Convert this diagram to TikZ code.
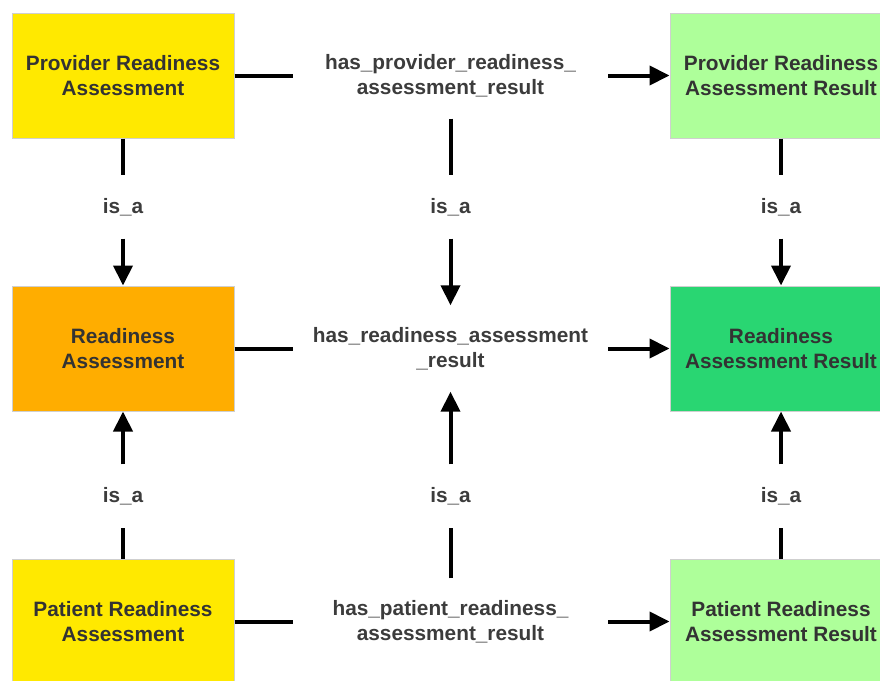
\documentclass[tikz,border=0pt]{standalone}
\usepackage{fontspec}
\setmainfont{Liberation Sans}
\usetikzlibrary{arrows.meta}

\definecolor{subYellow}{HTML}{FFE900}
\definecolor{baseOrange}{HTML}{FFAD00}
\definecolor{subGreen}{HTML}{AEFF9A}
\definecolor{baseGreen}{HTML}{29D672}
\definecolor{boxEdge}{HTML}{CFCFCF}
\definecolor{ink}{HTML}{333333}
\definecolor{labelInk}{HTML}{3C3C3C}

\newcommand{\diagfont}{\fontsize{20.8}{24.5}\selectfont\bfseries}

\begin{document}
\begin{tikzpicture}[x=1pt,y=-1pt,
  concept/.style={draw=boxEdge, line width=1pt, minimum width=222pt,
    minimum height=125pt, inner sep=0pt, align=center, font=\diagfont, text=ink},
  rel/.style={minimum width=315pt, minimum height=86pt, inner sep=0pt,
    align=center, font=\diagfont, text=labelInk},
  isa/.style={minimum width=60pt, minimum height=63pt, inner sep=0pt,
    font=\diagfont, text=labelInk},
  link/.style={line width=4pt, draw=black},
  tip/.style={link, -{Triangle[length=20pt,width=19pt]}}]

\useasboundingbox (0,0) rectangle (880,680);
\clip (0,0) rectangle (880,680);
\fill[white] (0,0) rectangle (880,680);

% classes
\node[concept, fill=subYellow]  (pra) at (123,75.5)  {Provider Readiness\\Assessment};
\node[concept, fill=baseOrange] (ra)  at (123,348.5) {Readiness\\Assessment};
\node[concept, fill=subYellow]  (ppa) at (123,621.5) {Patient Readiness\\Assessment};

\node[concept, fill=subGreen]  (prr) at (781,75.5)  {Provider Readiness\\Assessment Result};
\node[concept, fill=baseGreen] (rr)  at (781,348.5) {Readiness\\Assessment Result};
\node[concept, fill=subGreen]  (ppr) at (781,621.5) {Patient Readiness\\Assessment Result};

% relation labels
\node[rel] (r1) at (450.5,75.5)  {has\_provider\_readiness\_\\assessment\_result};
\node[rel] (r2) at (450.5,348.5) {has\_readiness\_assessment\\\_result};
\node[rel] (r3) at (450.5,621.5) {has\_patient\_readiness\_\\assessment\_result};

% is_a labels
\node[isa] (ila) at (123,207)   {is\_a};
\node[isa] (ilb) at (123,496)   {is\_a};
\node[isa] (imt) at (450.5,207) {is\_a};
\node[isa] (imb) at (450.5,496) {is\_a};
\node[isa] (irt) at (781,207)   {is\_a};
\node[isa] (irb) at (781,496)   {is\_a};

% relations
\draw[link] (pra) -- (r1);  \draw[tip] (r1) -- (prr);
\draw[link] (ra)  -- (r2);  \draw[tip] (r2) -- (rr);
\draw[link] (ppa) -- (r3);  \draw[tip] (r3) -- (ppr);

% subclass links
\draw[link] (pra) -- (ila); \draw[tip] (ila) -- (ra);
\draw[link] (ppa) -- (ilb); \draw[tip] (ilb) -- (ra);
\draw[link] (r1)  -- (imt); \draw[tip] (imt) -- (r2);
\draw[link] (r3)  -- (imb); \draw[tip] (imb) -- (r2);
\draw[link] (prr) -- (irt); \draw[tip] (irt) -- (rr);
\draw[link] (ppr) -- (irb); \draw[tip] (irb) -- (rr);
\end{tikzpicture}
\end{document}
